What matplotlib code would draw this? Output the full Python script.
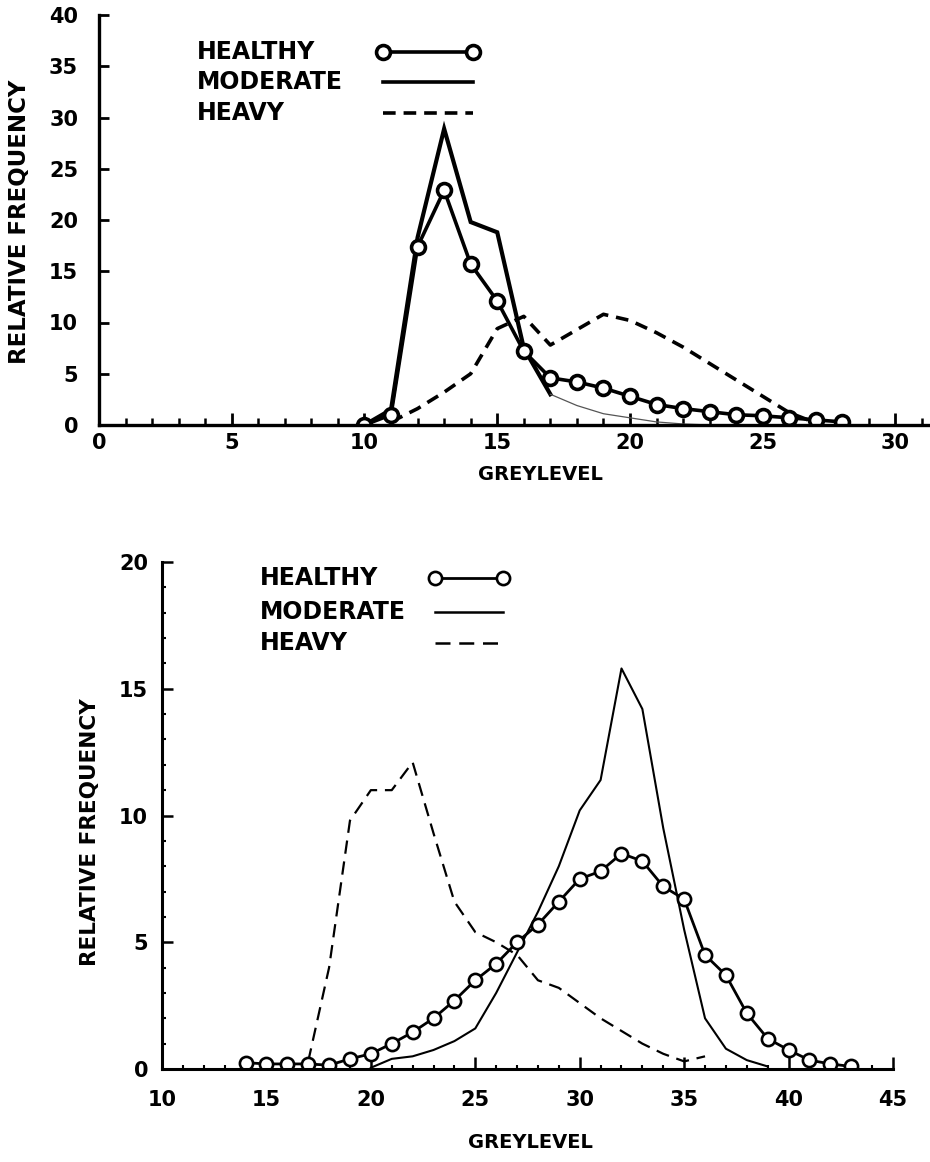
import numpy as np
import matplotlib
matplotlib.use("Agg")
import matplotlib.pyplot as plt
from matplotlib.ticker import MultipleLocator

plt.rcParams['font.family'] = ['DejaVu Sans']
plt.rcParams['font.weight'] = 'bold'

# ---- top panel data (greylevel vs relative frequency) ----
top_healthy_x = list(range(10, 29))
top_healthy_y = [0, 1.0, 17.4, 22.9, 15.7, 12.1, 7.2, 4.6, 4.2, 3.6, 2.8, 2.0, 1.6, 1.3, 1.0, 0.9, 0.7, 0.5, 0.3]

top_moderate_x = list(range(10, 24))
top_moderate_y = [0, 1.5, 18.3, 28.9, 19.8, 18.8, 7.5, 3.0, 1.9, 1.1, 0.7, 0.3, 0.1, 0]

top_heavy_x = list(range(11, 28))
top_heavy_y = [0.3, 1.6, 3.2, 5.0, 9.4, 10.6, 7.8, 9.3, 10.8, 10.2, 9.0, 7.6, 6.0, 4.4, 2.8, 1.2, 0.2]

# ---- bottom panel data ----
bot_healthy_x = list(range(14, 44))
bot_healthy_y = [0.25, 0.2, 0.2, 0.2, 0.15, 0.4, 0.6, 1.0, 1.45, 2.0, 2.7, 3.5, 4.15, 5.0, 5.7,
                 6.6, 7.5, 7.8, 8.5, 8.2, 7.2, 6.7, 4.5, 3.7, 2.2, 1.2, 0.75, 0.35, 0.2, 0.1]

bot_moderate_x = list(range(20, 40))
bot_moderate_y = [0.05, 0.4, 0.5, 0.75, 1.1, 1.6, 3.0, 4.6, 6.2, 8.0, 10.2, 11.4, 15.8, 14.2,
                  9.5, 5.5, 2.0, 0.8, 0.35, 0.1]

bot_heavy_x = list(range(17, 37))
bot_heavy_y = [0.3, 4.0, 9.8, 11.0, 11.0, 12.1, 9.3, 6.6, 5.4, 5.0, 4.5, 3.5, 3.2, 2.6, 2.0,
               1.5, 1.0, 0.6, 0.3, 0.5]

top_xticks = [0, 5, 10, 15, 20, 25, 30]
top_yticks = [0, 5, 10, 15, 20, 25, 30, 35, 40]
bot_xticks = [10, 15, 20, 25, 30, 35, 40, 45]
bot_yticks = [0, 5, 10, 15, 20]

legend_labels = ['HEALTHY', 'MODERATE', 'HEAVY']

fig = plt.figure(figsize=(9.3, 11.62), dpi=100)

W, H = 930.0, 1162.0
# axes placed in pixel terms of the 930x1162 canvas
ax1 = fig.add_axes([99 / W, (H - 425) / H, 831 / W, 410 / H])
ax2 = fig.add_axes([162 / W, (H - 1069) / H, 731 / W, 507 / H])

# top panel
ax1.plot(top_moderate_x[:8], top_moderate_y[:8], color='black', lw=3.0, solid_joinstyle='miter')
ax1.plot(top_moderate_x[7:], top_moderate_y[7:], color='#555555', lw=0.9)
ax1.plot(top_heavy_x, top_heavy_y, color='black', lw=2.6, dashes=(3.5, 2.2))
ax1.plot(top_healthy_x, top_healthy_y, color='black', lw=2.6, marker='o', ms=10,
         mfc='white', mec='black', mew=2.6)
ax1.set_xlim(0, 31.3)
ax1.set_ylim(0, 40)
ax1.set_xticks(top_xticks)
ax1.set_yticks(top_yticks)
ax1.xaxis.set_minor_locator(MultipleLocator(1))

# bottom panel
ax2.plot(bot_heavy_x, bot_heavy_y, color='black', lw=1.6, dashes=(6, 3.5))
ax2.plot(bot_moderate_x, bot_moderate_y, color='black', lw=1.5)
ax2.plot(bot_healthy_x, bot_healthy_y, color='black', lw=2.0, marker='o', ms=9.5,
         mfc='white', mec='black', mew=1.9)
ax2.set_xlim(10, 45)
ax2.set_ylim(0, 20)
ax2.set_xticks(bot_xticks)
ax2.set_yticks(bot_yticks)
ax2.xaxis.set_minor_locator(MultipleLocator(1))
ax2.yaxis.set_minor_locator(MultipleLocator(1))

for ax, lw in ((ax1, 2.4), (ax2, 2.2)):
    ax.spines['top'].set_visible(False)
    ax.spines['right'].set_visible(False)
    ax.spines['left'].set_linewidth(lw)
    ax.spines['bottom'].set_linewidth(lw)
    ax.patch.set_alpha(0)
    for lab in ax.get_xticklabels() + ax.get_yticklabels():
        lab.set_fontweight('bold')
        lab.set_fontsize(15)

ax1.tick_params(axis='x', which='major', direction='in', length=9, width=2.0, pad=6)
ax1.tick_params(axis='x', which='minor', direction='in', length=5, width=1.8)
ax1.tick_params(axis='y', which='major', direction='in', length=7, width=2.0, pad=15)
ax2.tick_params(axis='x', which='major', direction='in', length=9, width=1.8, pad=15)
ax2.tick_params(axis='x', which='minor', direction='in', length=3, width=1.5)
ax2.tick_params(axis='y', which='major', direction='in', length=8, width=1.8, pad=10)
ax2.tick_params(axis='y', which='minor', direction='in', length=3, width=1.5)

# axis labels
fig.text(20 / W, (H - 222) / H, 'RELATIVE FREQUENCY', rotation=90, ha='center', va='center',
         fontsize=16.5, fontweight='bold')
fig.text(540 / W, (H - 474) / H, 'GREYLEVEL', ha='center', va='center', fontsize=14, fontweight='bold')
fig.text(90 / W, (H - 832) / H, 'RELATIVE FREQUENCY', rotation=90, ha='center', va='center',
         fontsize=15.5, fontweight='bold')
fig.text(530 / W, (H - 1142) / H, 'GREYLEVEL', ha='center', va='center', fontsize=14, fontweight='bold')

# legends (drawn as key rows)
top_rows = [0.91, 0.837, 0.761]
top_styles = [dict(lw=2.6, marker='o', ms=10, mfc='white', mec='black', mew=2.6, markevery=[0, 1]),
              dict(lw=2.6),
              dict(lw=2.6, dashes=(3.5, 2.2))]
for lab, yy, st in zip(legend_labels, top_rows, top_styles):
    ax1.text(0.118, yy, lab, transform=ax1.transAxes, ha='left', va='center', fontsize=17,
             fontweight='bold')
    ax1.plot([0.342, 0.45], [yy, yy], transform=ax1.transAxes, color='black', clip_on=False, **st)

bot_rows = [0.968, 0.901, 0.840]
bot_styles = [dict(lw=2.0, marker='o', ms=9.5, mfc='white', mec='black', mew=1.9, markevery=[0, 1]),
              dict(lw=1.8),
              dict(lw=1.8, dashes=(6, 3.5))]
for lab, yy, st in zip(legend_labels, bot_rows, bot_styles):
    ax2.text(0.134, yy, lab, transform=ax2.transAxes, ha='left', va='center', fontsize=17,
             fontweight='bold')
    ax2.plot([0.374, 0.466], [yy, yy], transform=ax2.transAxes, color='black', clip_on=False, **st)

fig.savefig('out.png', dpi=100)
